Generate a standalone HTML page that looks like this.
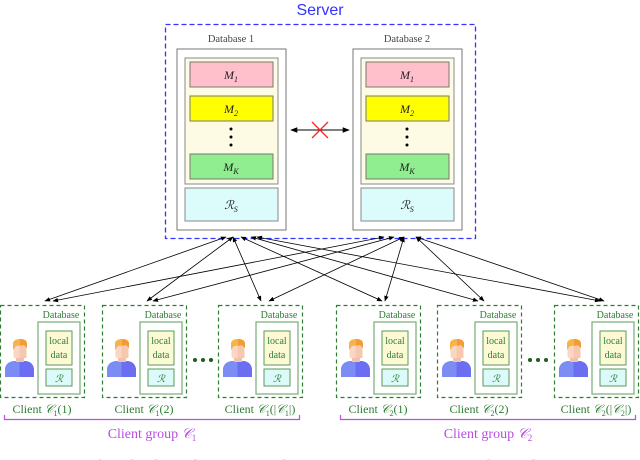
<!DOCTYPE html>
<html><head><meta charset="utf-8"><style>
html,body{margin:0;padding:0;background:#fff;width:640px;height:460px;overflow:hidden}
svg{display:block}
text{font-family:"Liberation Serif",serif}
</style></head><body>
<svg width="640" height="460" viewBox="0 0 640 460" xmlns="http://www.w3.org/2000/svg">
<defs>
<marker id="ah" viewBox="0 0 10 10" refX="9" refY="5" markerWidth="7" markerHeight="7" orient="auto-start-reverse"><path d="M0,1 L10,5 L0,9 z" fill="#000"/></marker>
<g id="person">
<path d="M5,72 L5,64 Q6,57 14,56 L26,56 Q33,57 34,64 L34,72 Z" fill="#6b6ef0"/>
<path d="M5,72 L5,64 Q6,57 14,56 L19.5,56 L19.5,72 Z" fill="#7c8cf5"/>
<rect x="16" y="50" width="8" height="7" fill="#f2c2a8"/>
<rect x="13.5" y="40" width="13" height="13" rx="2" fill="#fbd6c2"/>
<rect x="19.5" y="40" width="7" height="13" fill="#f6c8b0"/>
<path d="M13,45 L13,38 Q14,34 20,34 Q27,34 27,39 L27,43 L24,40 L16,41 Z" fill="#f7b24a"/>
<path d="M20,34 Q27,34 27,39 L27,43 L24,40 L20,41 Z" fill="#f39c33"/>
</g>
<g id="client">
<rect x="0.5" y="0.5" width="84" height="92" fill="none" stroke="#2e7d32" stroke-width="1.2" stroke-dasharray="4,3"/>
<text x="61" y="13" font-size="10" fill="#2e7d32" text-anchor="middle">Database</text>
<rect x="38" y="17" width="42" height="72" fill="#fff" stroke="#74ad74" stroke-width="1.2"/>
<rect x="46" y="26" width="26" height="34" fill="#fcfad4" stroke="#5a9a5a" stroke-width="1"/>
<text x="59" y="39" font-size="10" fill="#2e7d32" text-anchor="middle">local</text>
<text x="59" y="53" font-size="10" fill="#2e7d32" text-anchor="middle">data</text>
<rect x="46" y="64" width="26" height="17" fill="#dcfafa" stroke="#5a9a5a" stroke-width="1"/>
<text x="59" y="77" font-size="10" font-style="italic" fill="#2e7d32" text-anchor="middle">ℛ</text>
<use href="#person"/>
</g>
<g id="db1">
<rect x="177" y="49" width="109" height="181" fill="#fff" stroke="#777" stroke-width="1"/>
<rect x="185" y="58" width="93" height="126" fill="#fdfbe3" stroke="#888" stroke-width="1"/>
<rect x="190" y="62" width="83" height="25" fill="#ffc0cb" stroke="#777"/>
<text x="231" y="79" font-size="12" font-style="italic" fill="#222" text-anchor="middle">M<tspan font-size="8" dy="3">1</tspan></text>
<rect x="190" y="96" width="83" height="25" fill="#ffff00" stroke="#777"/>
<text x="231" y="113" font-size="12" font-style="italic" fill="#222" text-anchor="middle">M<tspan font-size="8" dy="3">2</tspan></text>
<circle cx="231" cy="129" r="1.5" fill="#000"/><circle cx="231" cy="137" r="1.5" fill="#000"/><circle cx="231" cy="145" r="1.5" fill="#000"/>
<rect x="190" y="154" width="83" height="25" fill="#90ee90" stroke="#777"/>
<text x="231" y="171" font-size="12" font-style="italic" fill="#222" text-anchor="middle">M<tspan font-size="8" dy="3">K</tspan></text>
<rect x="185" y="188" width="93" height="33" fill="#dcfcfc" stroke="#888"/>
<text x="231" y="209" font-size="12" font-style="italic" fill="#222" text-anchor="middle">ℛ<tspan font-size="8" dy="3">S</tspan></text>
</g>
</defs>

<text x="320" y="15" font-size="16" fill="#3333ff" text-anchor="middle" style="font-family:'Liberation Sans',sans-serif">Server</text>
<rect x="165.5" y="24.5" width="310" height="214" fill="none" stroke="#3333ff" stroke-width="1.3" stroke-dasharray="5,3"/>

<text x="231" y="42" font-size="10.5" fill="#444" text-anchor="middle">Database 1</text>
<text x="407" y="42" font-size="10.5" fill="#444" text-anchor="middle">Database 2</text>
<use href="#db1"/>
<use href="#db1" x="176"/>

<line x1="291" y1="130" x2="349" y2="130" stroke="#000" stroke-width="1" marker-start="url(#ah)" marker-end="url(#ah)"/>
<path d="M312,122 L328,138 M328,122 L312,138" stroke="#ff2020" stroke-width="1.3"/>

<g stroke="#000" stroke-width="0.8" fill="none" marker-start="url(#ah)" marker-end="url(#ah)">
<line x1="226" y1="237" x2="45" y2="301"/>
<line x1="233" y1="237" x2="147" y2="301"/>
<line x1="233" y1="237" x2="261" y2="301"/>
<line x1="241" y1="237" x2="382" y2="301"/>
<line x1="251" y1="237" x2="478" y2="301"/>
<line x1="257" y1="237" x2="600" y2="301"/>
<line x1="384" y1="237" x2="53" y2="301"/>
<line x1="394" y1="237" x2="153" y2="301"/>
<line x1="404" y1="237" x2="269" y2="301"/>
<line x1="404" y1="237" x2="385" y2="301"/>
<line x1="416" y1="237" x2="484" y2="301"/>
<line x1="416" y1="237" x2="604" y2="301"/>
</g>

<use href="#client" x="0" y="305"/>
<use href="#client" x="102" y="305"/>
<use href="#client" x="218" y="305"/>
<use href="#client" x="336" y="305"/>
<use href="#client" x="437" y="305"/>
<use href="#client" x="554" y="305"/>
<g fill="#1b5e20"><circle cx="195" cy="360" r="2"/><circle cx="203" cy="360" r="2"/><circle cx="211" cy="360" r="2"/>
<circle cx="530" cy="360" r="2"/><circle cx="538" cy="360" r="2"/><circle cx="546" cy="360" r="2"/></g>

<g font-size="12" fill="#2e7d32" text-anchor="middle">
<text x="42" y="413">Client <tspan font-style="italic">𝒞</tspan><tspan font-size="8" dy="3">1</tspan><tspan dy="-3">(1)</tspan></text>
<text x="144" y="413">Client <tspan font-style="italic">𝒞</tspan><tspan font-size="8" dy="3">1</tspan><tspan dy="-3">(2)</tspan></text>
<text x="260" y="413">Client <tspan font-style="italic">𝒞</tspan><tspan font-size="8" dy="3">1</tspan><tspan dy="-3">(|</tspan><tspan font-style="italic">𝒞</tspan><tspan font-size="8" dy="3">1</tspan><tspan dy="-3">|)</tspan></text>
<text x="378" y="413">Client <tspan font-style="italic">𝒞</tspan><tspan font-size="8" dy="3">2</tspan><tspan dy="-3">(1)</tspan></text>
<text x="479" y="413">Client <tspan font-style="italic">𝒞</tspan><tspan font-size="8" dy="3">2</tspan><tspan dy="-3">(2)</tspan></text>
<text x="596" y="413">Client <tspan font-style="italic">𝒞</tspan><tspan font-size="8" dy="3">2</tspan><tspan dy="-3">(|</tspan><tspan font-style="italic">𝒞</tspan><tspan font-size="8" dy="3">2</tspan><tspan dy="-3">|)</tspan></text>
</g>

<g stroke="#b44fe0" stroke-width="1.2" fill="none">
<path d="M4.5,415 L4.5,419.5 L299.5,419.5 L299.5,415"/>
<path d="M340.5,415 L340.5,419.5 L635.5,419.5 L635.5,415"/>
</g>
<g font-size="14" fill="#b44fe0" text-anchor="middle">
<text x="152" y="438">Client group <tspan font-style="italic">𝒞</tspan><tspan font-size="9" dy="3">1</tspan></text>
<text x="488" y="438">Client group <tspan font-style="italic">𝒞</tspan><tspan font-size="9" dy="3">2</tspan></text>
</g>
<text x="0" y="471" font-size="16" fill="#888">Figure 1: Distributed federated learning model framework (FSL) across models and</text>
</svg>
</body></html>
